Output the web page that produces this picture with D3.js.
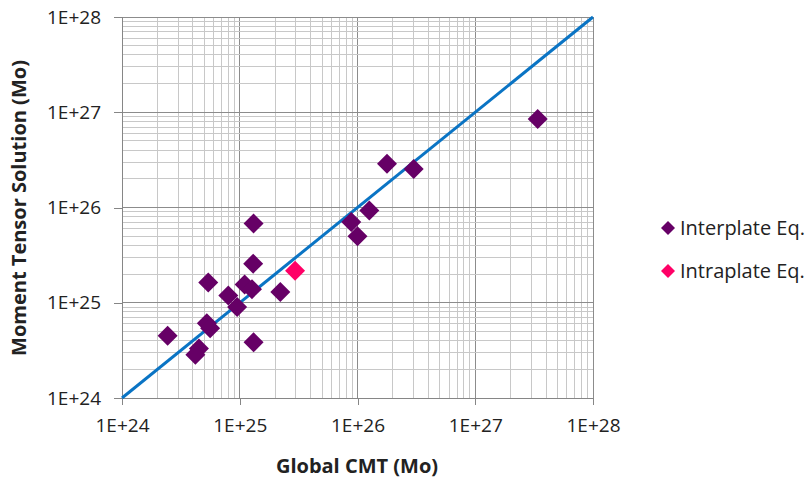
<!DOCTYPE html>
<html>
<head>
<meta charset="utf-8">
<script src="https://cdn.jsdelivr.net/npm/d3@7"></script>
<style>
  body { margin: 0; background: #fff; }
  text { font-family: "Open Sans", "Liberation Sans", sans-serif; fill: #222; }
</style>
</head>
<body>
<div id="chart"></div>
<script>
// data
var interCMT = [1.31e25, 1.30e25, 5.4e24, 1.1e25, 1.27e25, 2.21e25, 8.0e24, 9.5e24, 5.25e24, 5.6e24,
                2.44e24, 4.5e24, 4.2e24, 1.31e25, 3.39e27, 1.78e26, 3.0e26, 1.26e26, 8.85e25, 1.0e26];
var interMT  = [6.8e25, 2.57e25, 1.63e25, 1.55e25, 1.39e25, 1.3e25, 1.19e25, 9.0e24, 6.1e24, 5.4e24,
                4.5e24, 3.3e24, 2.85e24, 3.84e24, 8.5e26, 2.88e26, 2.54e26, 9.3e25, 7.05e25, 4.98e25];
var intraCMT = [2.95e25];
var intraMT  = [2.17e25];
var lineEnds = [1e24, 1e28];
var tickValues = [1e24, 1e25, 1e26, 1e27, 1e28];
var tickLabels = ["1E+24", "1E+25", "1E+26", "1E+27", "1E+28"];
var legendNames = ["Interplate Eq.", "Intraplate Eq."];
var colors = ["#660066", "#ff0066"];

var svgWidth = 812, svgHeight = 479;
var margin = { left: 122, top: 17, right: 219, bottom: 81 };
var width = svgWidth - margin.left - margin.right;
var height = svgHeight - margin.top - margin.bottom;

var svg = d3.select("#chart").append("svg")
  .attr("width", svgWidth)
  .attr("height", svgHeight);

var chartGroup = svg.append("g")
  .attr("transform", `translate(${margin.left}, ${margin.top})`);

var x = d3.scaleLog().domain([1e24, 1e28]).range([0, width]);
var y = d3.scaleLog().domain([1e24, 1e28]).range([height, 0]);

// grid lines: 1..9 within each decade
var gridVals = [];
for (var e = 24; e < 28; e++) {
  for (var m = 1; m <= 9; m++) gridVals.push(m * Math.pow(10, e));
}
gridVals.push(1e28);

chartGroup.append("g").selectAll("line.gx")
  .data(gridVals).enter().append("line")
  .attr("x1", d => x(d)).attr("x2", d => x(d))
  .attr("y1", 0).attr("y2", height)
  .attr("stroke", d => tickValues.includes(d) ? "#8c8c8c" : "#c8c8c8")
  .attr("stroke-width", 1)
  .attr("shape-rendering", "crispEdges");

chartGroup.append("g").selectAll("line.gy")
  .data(gridVals).enter().append("line")
  .attr("y1", d => y(d)).attr("y2", d => y(d))
  .attr("x1", 0).attr("x2", width)
  .attr("stroke", d => tickValues.includes(d) ? "#8c8c8c" : "#c8c8c8")
  .attr("stroke-width", 1)
  .attr("shape-rendering", "crispEdges");

// axes
var bottomAxis = d3.axisBottom(x).tickValues(tickValues)
  .tickFormat((d, i) => tickLabels[i]).tickSize(7).tickPadding(14);
var leftAxis = d3.axisLeft(y).tickValues(tickValues)
  .tickFormat((d, i) => tickLabels[i]).tickSize(8).tickPadding(13);

var xAxis = chartGroup.append("g")
  .attr("transform", `translate(0, ${height})`)
  .call(bottomAxis);
var yAxis = chartGroup.append("g").call(leftAxis);

[xAxis, yAxis].forEach(function(a) {
  a.selectAll("path, line").attr("stroke", "#868686").attr("shape-rendering", "crispEdges");
  a.selectAll("text").style("font-size", "19px").attr("fill", "#222");
});

// 1:1 line
chartGroup.append("line")
  .attr("x1", x(lineEnds[0])).attr("y1", y(lineEnds[0]))
  .attr("x2", x(lineEnds[1])).attr("y2", y(lineEnds[1]))
  .attr("stroke", "#0a74c4")
  .attr("stroke-width", 3);

// diamond markers
function diamond(s) {
  return `M0,${-s}L${s},0L0,${s}L${-s},0Z`;
}

var interData = interCMT.map((d, i) => [d, interMT[i]]);
var intraData = intraCMT.map((d, i) => [d, intraMT[i]]);

chartGroup.append("g").selectAll("path")
  .data(interData).enter().append("path")
  .attr("d", diamond(10))
  .attr("transform", d => `translate(${x(d[0])}, ${y(d[1])})`)
  .attr("fill", colors[0]);

chartGroup.append("g").selectAll("path")
  .data(intraData).enter().append("path")
  .attr("d", diamond(10))
  .attr("transform", d => `translate(${x(d[0])}, ${y(d[1])})`)
  .attr("fill", colors[1]);

// axis titles
svg.append("text")
  .attr("x", 357)
  .attr("y", 473)
  .attr("text-anchor", "middle")
  .style("font-size", "20px")
  .style("font-weight", "bold")
  .text("Global CMT (Mo)");

svg.append("text")
  .attr("transform", "rotate(-90)")
  .attr("x", -208)
  .attr("y", 26)
  .attr("text-anchor", "middle")
  .style("font-size", "20px")
  .style("font-weight", "bold")
  .text("Moment Tensor Solution (Mo)");

// legend
var legend = svg.append("g");
legendNames.forEach(function(name, i) {
  var ly = 228 + i * 43;
  legend.append("path")
    .attr("d", diamond(7))
    .attr("transform", `translate(668, ${ly})`)
    .attr("fill", colors[i]);
  legend.append("text")
    .attr("x", 680)
    .attr("y", ly + 7)
    .style("font-size", "20px")
    .text(name);
});
</script>
</body>
</html>
